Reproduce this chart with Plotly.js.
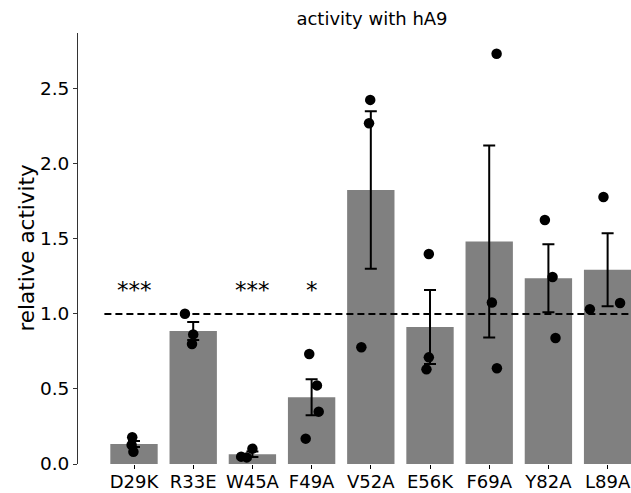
<!DOCTYPE html>
<html>
<head>
<meta charset="utf-8">
<script src="https://cdn.plot.ly/plotly-3.0.1.min.js"></script>
<style>html,body{margin:0;padding:0;background:#fff;}#chart{width:631px;height:493px;}</style>
</head>
<body>
<div id="chart"></div>
<script>
// ---- data ----
const categories = ["D29K", "R33E", "W45A", "F49A", "V52A", "E56K", "F69A", "Y82A", "L89A"];
const meanActivity = [0.133, 0.887, 0.065, 0.445, 1.826, 0.913, 1.483, 1.238, 1.295];
const semActivity = [0.020, 0.060, 0.018, 0.120, 0.525, 0.247, 0.640, 0.227, 0.243];
// replicate points: category index, jitter offset, value
const pointCat = [0, 0, 0, 1, 1, 1, 2, 2, 2, 3, 3, 3, 3, 4, 4, 4, 5, 5, 5, 6, 6, 6, 7, 7, 7, 8, 8, 8];
const pointJitter = [-0.03, -0.04, -0.01, -0.14, 0.0, -0.02, -0.19, -0.095, 0.0, -0.04, 0.09, 0.12, -0.10,
  -0.01, -0.03, -0.16, -0.02, -0.02, -0.06, 0.125, 0.045, 0.13, -0.06, 0.07, 0.12, -0.07, 0.21, -0.30];
const pointValue = [0.178, 0.127, 0.082, 1.002, 0.864, 0.800, 0.049, 0.044, 0.102, 0.733, 0.524, 0.349, 0.169,
  2.427, 2.271, 0.778, 1.400, 0.711, 0.631, 2.735, 1.076, 0.638, 1.627, 1.247, 0.840, 1.780, 1.073, 1.031];
const sigCat = [0, 2, 3];
const sigLabel = ["***", "***", "*"];
const sigLevel = 1.16;
const refLevel = 1.0;
const yTicks = [0, 0.5, 1.0, 1.5, 2.0, 2.5];
const yTickText = ["0.0", "0.5", "1.0", "1.5", "2.0", "2.5"];

const idx = categories.map((c, i) => i);
const font = "DejaVu Sans, Liberation Sans, sans-serif";

const traces = [
  {
    type: "bar", x: idx, y: meanActivity, width: 0.8,
    marker: {color: "#808080", line: {width: 0}},
    error_y: {type: "data", array: semActivity, visible: true, color: "#000", thickness: 2, width: 6},
    hoverinfo: "skip", showlegend: false
  },
  {
    type: "scatter", mode: "lines", x: [-0.5, categories.length - 0.5], y: [refLevel, refLevel],
    line: {color: "#000", width: 2, dash: "7px,4px"}, hoverinfo: "skip", showlegend: false, cliponaxis: true
  },
  {
    type: "scatter", mode: "markers",
    x: pointCat.map((c, i) => c + pointJitter[i]), y: pointValue,
    marker: {color: "#000", size: 10.5, line: {width: 0}}, hoverinfo: "skip", showlegend: false, cliponaxis: false
  }
];

const annotations = sigCat.map((c, i) => ({
  x: c, y: sigLevel, xref: "x", yref: "y", text: sigLabel[i], showarrow: false,
  xanchor: "center", yanchor: "middle", font: {family: font, size: 23, color: "#000"}
}));
annotations.push({
  x: 0, y: 0.5, xref: "paper", yref: "paper", xshift: -52, text: "relative activity", showarrow: false,
  textangle: -90, xanchor: "center", yanchor: "middle", font: {family: font, size: 21.5, color: "#000"}
});

const layout = {
  width: 631, height: 493,
  margin: {l: 78, r: 0, t: 33, b: 29, pad: 0},
  paper_bgcolor: "#fff", plot_bgcolor: "#fff",
  font: {family: font, color: "#000"},
  title: {text: "activity with hA9", x: 372 / 631, xref: "container", xanchor: "center",
          y: 1 - 19 / 493, yref: "container", yanchor: "middle", font: {family: font, size: 18, color: "#000"}},
  xaxis: {
    range: [-0.946, 8.395], tickvals: idx, ticktext: categories, showgrid: false, zeroline: false,
    showline: false, ticks: "outside", ticklen: 3.5, tickwidth: 1, tickcolor: "#000",
    ticklabeloverflow: "allow", ticklabelstandoff: -2,
    tickfont: {family: font, size: 18, color: "#000"}, fixedrange: true
  },
  yaxis: {
    range: [0, 2.873], tickvals: yTicks, ticktext: yTickText, showgrid: false, zeroline: false,
    showline: true, linecolor: "#333", linewidth: 1, ticks: "outside", ticklen: 4, tickwidth: 1, tickcolor: "#333",
    tickfont: {family: font, size: 18.5, color: "#000"}, fixedrange: true
  },
  annotations: annotations,
  showlegend: false
};

Plotly.newPlot("chart", traces, layout, {displayModeBar: false, staticPlot: true});
</script>
</body>
</html>
